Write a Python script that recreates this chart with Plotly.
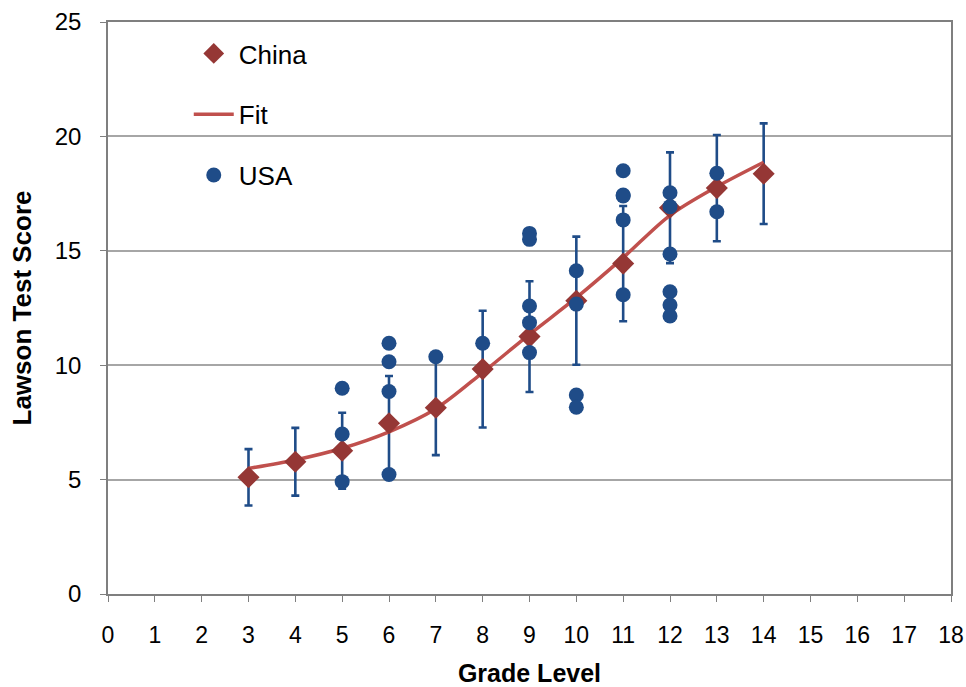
import plotly.graph_objects as go

# China means with error bars
china_grade = [3, 4, 5, 6, 7, 8, 9, 10, 11, 12, 13, 14]
china_score = [5.10, 5.78, 6.26, 7.46, 8.14, 9.83, 11.25, 12.82, 14.44, 16.88, 17.74, 18.37]
china_err = [1.23, 1.48, 1.66, 2.07, 2.07, 2.55, 2.42, 2.80, 2.52, 2.42, 2.32, 2.20]

# Fit curve
fit_grade = [3, 4, 5, 6, 7, 8, 9, 10, 11, 12, 13, 14]
fit_score = [5.49, 5.86, 6.37, 7.09, 8.10, 9.68, 11.35, 12.95, 14.70, 16.55, 17.80, 18.87]

# USA observations
usa_grade = [5, 5, 5,
             6, 6, 6, 6,
             7,
             8,
             9, 9, 9, 9, 9,
             10, 10, 10, 10,
             11, 11, 11, 11, 11,
             12, 12, 12, 12, 12, 12,
             13, 13]
usa_score = [8.99, 6.99, 4.91,
             10.96, 10.15, 8.85, 5.22,
             10.37,
             10.96,
             15.76, 15.50, 12.59, 11.86, 10.55,
             14.13, 12.67, 8.70, 8.16,
             18.50, 17.44, 17.40, 16.35, 13.08,
             17.54, 16.93, 14.86, 13.21, 12.63, 12.15,
             18.39, 16.71]

x_ticks = list(range(0, 19))
y_ticks = [0, 5, 10, 15, 20, 25]

BLUE = "#1F4C88"
DARKRED = "#953735"
FITRED = "#C0504D"
FONT = "Liberation Sans, Arial, sans-serif"

fig = go.Figure()

# error bars (drawn beneath the fit line)
fig.add_trace(go.Scatter(
    x=china_grade, y=china_score, mode="markers",
    marker=dict(size=1, color="rgba(0,0,0,0)"),
    error_y=dict(type="data", array=china_err, visible=True,
                 color=BLUE, thickness=2.6, width=4),
    showlegend=False, hoverinfo="skip"))

fig.add_trace(go.Scatter(
    x=fit_grade, y=fit_score, mode="lines", name="Fit",
    line=dict(color=FITRED, width=3.5, shape="spline", smoothing=0.9),
    legendrank=2, legendgroup="fit"))

fig.add_trace(go.Scatter(
    x=china_grade, y=china_score, mode="markers", name="China",
    marker=dict(symbol="diamond", size=17, color=DARKRED,
                line=dict(width=0)),
    legendrank=1, legendgroup="china"))

fig.add_trace(go.Scatter(
    x=usa_grade, y=usa_score, mode="markers", name="USA",
    marker=dict(symbol="circle", size=15, color=BLUE,
                line=dict(width=0)),
    legendrank=3, legendgroup="usa"))

fig.update_layout(
    width=966, height=687,
    margin=dict(l=108, r=15, t=22, b=93),
    paper_bgcolor="white", plot_bgcolor="white",
    font=dict(family=FONT, size=20, color="black"),
    legend=dict(x=0.0958, y=0.986, xanchor="left", yanchor="top",
                bgcolor="rgba(0,0,0,0)", font=dict(size=26),
                tracegroupgap=24, itemwidth=40),
    xaxis=dict(range=[0, 18], tickmode="array", tickvals=x_ticks,
               ticktext=[str(v) for v in x_ticks],
               showgrid=False, zeroline=False, automargin=False,
               showline=True, linecolor="#7F7F7F", linewidth=1.5, mirror=True,
               ticks="outside", ticklen=6, tickcolor="#7F7F7F",
               ticklabelstandoff=14,
               tickfont=dict(size=23),
               title=dict(text="<b>Grade Level</b>", font=dict(size=25), standoff=24)),
    yaxis=dict(range=[0, 25], tickmode="array", tickvals=y_ticks,
               ticktext=[str(v) for v in y_ticks],
               showgrid=True, gridcolor="#A6A6A6", gridwidth=1.5,
               zeroline=False, automargin=False,
               showline=True, linecolor="#7F7F7F", linewidth=1.5, mirror=True,
               ticks="outside", ticklen=6, tickcolor="#7F7F7F",
               ticklabelstandoff=14,
               tickfont=dict(size=24),
               title=dict(text="<b>Lawson Test Score</b>", font=dict(size=26), standoff=16)),
)

# remove the browser's default page margin so the figure fills the window exactly
fig.write_html("out.html", config={"displayModeBar": False},
               post_script="document.body.style.margin='0';")
